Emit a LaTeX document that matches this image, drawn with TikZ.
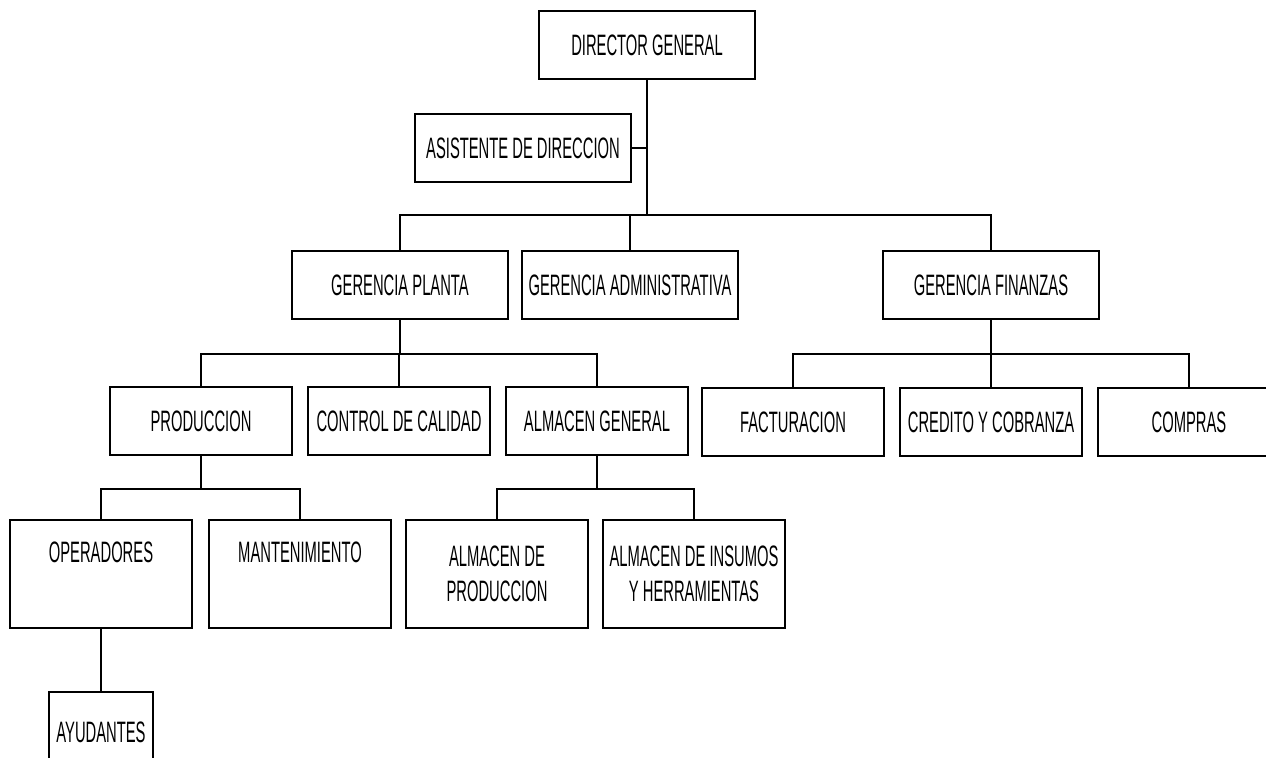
\documentclass[tikz,border=0pt]{standalone}
\usepackage{fontspec}
\setmainfont{Liberation Sans}[FakeStretch=0.5]

\begin{document}
\begin{tikzpicture}[x=0.025cm, y=-0.025cm,
    letra/.style ={font=\fontsize{21}{25}\selectfont},
    puesto/.style ={rectangle, draw, line width=1.4pt, inner sep=0pt, letra,
      minimum width=5.4cm, minimum height=1.7cm, align=center},
    area/.style ={puesto, minimum width=4.55cm, minimum height=1.72cm},
    seccion/.style ={puesto, minimum width=4.55cm, minimum height=2.7cm},
    enlace/.style ={line width=1.4pt}]
   \useasboundingbox (0,0) rectangle (1266,757);
   \node[puesto] (dir) at (647,45) {DIRECTOR GENERAL};
   \node[puesto] (asis) at (523,148) {ASISTENTE DE DIRECCION};
   \node[puesto] (gpla) at (400,285) {GERENCIA PLANTA};
   \node[puesto] (gadm) at (630,285) {GERENCIA ADMINISTRATIVA};
   \node[puesto] (gfin) at (991,285) {GERENCIA FINANZAS};
   \node[area] (prod) at (201,421) {PRODUCCION};
   \node[area] (ctrl) at (399,421) {CONTROL DE CALIDAD};
   \node[area] (almg) at (597,421) {ALMACEN GENERAL};
   \node[area] (fact) at (793,422) {FACTURACION};
   \node[area] (cred) at (991,422) {CREDITO Y COBRANZA};
   \node[area] (comp) at (1189,422) {COMPRAS};
   \node[seccion, label={[letra, yshift=0.55cm]center:OPERADORES}] (oper) at (101,574) {};
   \node[seccion, label={[letra, yshift=0.55cm]center:MANTENIMIENTO}] (mant) at (300,574) {};
   \node[seccion] (almp) at (497,574) {ALMACEN DE\\PRODUCCION};
   \node[seccion] (almi) at (694,574) {ALMACEN DE INSUMOS\\Y HERRAMIENTAS};
   \node[puesto, minimum width=2.6cm, minimum height=2cm] (ayud) at (101,732) {AYUDANTES};
   % buses
   \coordinate (b1) at (647,215);
   \coordinate (b2) at (400,354);
   \coordinate (b3) at (991,354);
   \coordinate (b4) at (201,489);
   \coordinate (b5) at (597,489);
   \draw[enlace] (dir.south) -- (b1);
   \draw[enlace] (asis.east) -- (asis.east -| b1);
   \draw[enlace] (gpla.north) |- (b1) -| (gfin.north);
   \draw[enlace] (gadm.north) -- (gadm.north |- b1);
   \draw[enlace] (gpla.south) -- (b2);
   \draw[enlace] (prod.north) |- (b2) -| (almg.north);
   \draw[enlace] (ctrl.north) -- (ctrl.north |- b2);
   \draw[enlace] (gfin.south) -- (b3);
   \draw[enlace] (fact.north) |- (b3) -| (comp.north);
   \draw[enlace] (cred.north) -- (cred.north |- b3);
   \draw[enlace] (prod.south) -- (b4);
   \draw[enlace] (oper.north) |- (b4) -| (mant.north);
   \draw[enlace] (almg.south) -- (b5);
   \draw[enlace] (almp.north) |- (b5) -| (almi.north);
   \draw[enlace] (oper.south) -- (ayud.north);
 \end{tikzpicture}
\end{document}
